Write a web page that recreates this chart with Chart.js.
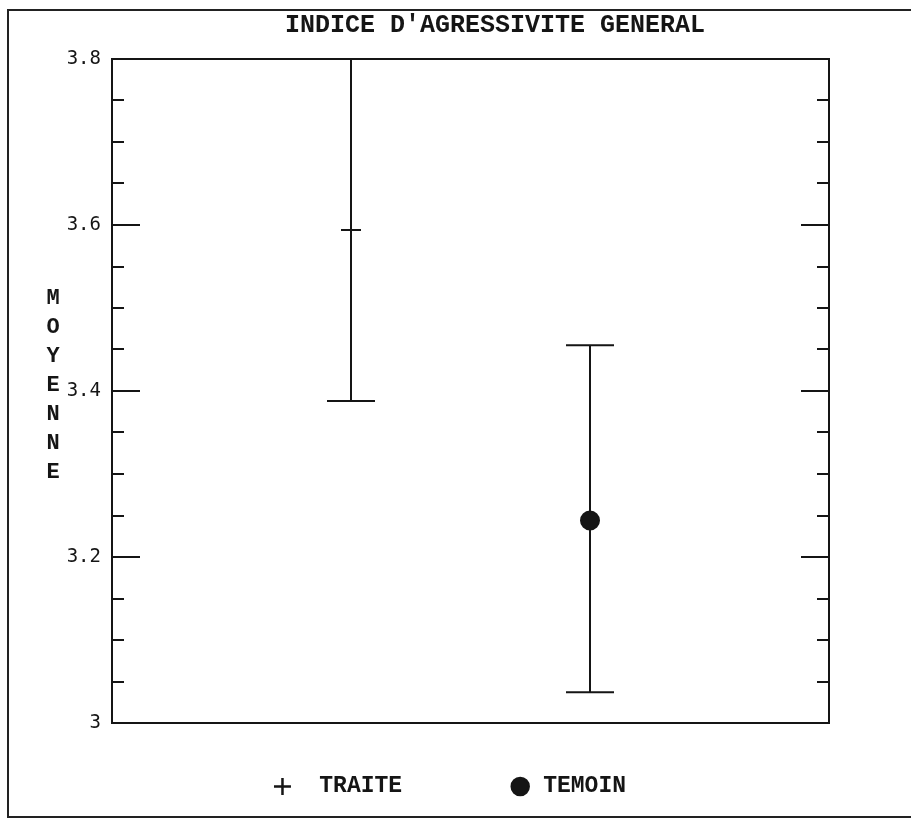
<!DOCTYPE html>
<html>
<head>
<meta charset="utf-8">
<script src="https://cdn.jsdelivr.net/npm/chart.js@4.4.1/dist/chart.umd.min.js"></script>
<style>
  html, body { margin: 0; padding: 0; background: #fff; }
  #wrap { position: relative; width: 911px; height: 821px; overflow: hidden; }
  #frame { position: absolute; left: 7px; top: 9px; width: 920px; height: 805px;
           border-left: 2px solid #222; border-top: 2px solid #222; border-bottom: 2px solid #222; }
  canvas { position: absolute; left: 0; top: 0; }
</style>
</head>
<body>
<div id="wrap">
  <div id="frame"></div>
  <canvas id="c" width="911" height="821"></canvas>
</div>
<script>
// ---- data ----
const categories = ['TRAITE', 'TEMOIN'];
const xPositions = [1, 2];
const means = [3.594, 3.244];
const lowerBounds = [3.388, 3.037];
const upperBounds = [3.800, 3.455];
const yTickLabels = ['3', '3.2', '3.4', '3.6', '3.8'];
const yMin = 3.0;
const yMax = 3.8;
const yMinorStep = 0.05;
const chartTitle = "INDICE D'AGRESSIVITE GENERAL";
const yTitle = 'MOYENNE';

// ---- styles ----
const INK = '#151515';
const MONO = '"Liberation Mono", "DejaVu Sans Mono", monospace';
const pointStyles = ['cross', 'circle'];
const pointRadii = [10, 9];

const datasets = categories.map((name, i) => ({
  label: name,
  data: [{ x: xPositions[i], y: means[i] }],
  pointStyle: pointStyles[i],
  pointRadius: pointRadii[i],
  pointHoverRadius: pointRadii[i],
  borderColor: INK,
  backgroundColor: INK,
  borderWidth: 2,
  showLine: false
}));

function labelFor(v) {
  for (const l of yTickLabels) {
    if (Math.abs(parseFloat(l) - v) < 1e-6) return l;
  }
  return null;
}

const decorPlugin = {
  id: 'decor',
  beforeDatasetsDraw(chart) {
    const ctx = chart.ctx;
    const { left, right, top, bottom } = chart.chartArea;
    const ys = chart.scales.y, xs = chart.scales.x;
    ctx.save();
    ctx.strokeStyle = INK;
    ctx.lineWidth = 2;
    ctx.lineCap = 'butt';
    // frame
    ctx.strokeRect(left, top, right - left, bottom - top);
    // inward ticks
    ys.ticks.forEach(t => {
      const y = Math.round(ys.getPixelForValue(t.value));
      if (Math.abs(t.value - yMin) < 1e-6 || Math.abs(t.value - yMax) < 1e-6) return;
      const major = labelFor(t.value) !== null;
      const len = major ? 28 : 12;
      ctx.beginPath();
      ctx.moveTo(left, y); ctx.lineTo(left + len, y);
      ctx.moveTo(right, y); ctx.lineTo(right - len, y);
      ctx.stroke();
    });
    // error bars
    const capHalf = 24;
    categories.forEach((c, i) => {
      const x = xs.getPixelForValue(xPositions[i]);
      const yl = ys.getPixelForValue(lowerBounds[i]);
      const yu = ys.getPixelForValue(upperBounds[i]);
      ctx.beginPath();
      ctx.moveTo(x, yl); ctx.lineTo(x, yu);
      ctx.moveTo(x - capHalf, yl); ctx.lineTo(x + capHalf, yl);
      ctx.moveTo(x - capHalf, yu); ctx.lineTo(x + capHalf, yu);
      ctx.stroke();
    });
    ctx.restore();
  },
  afterDraw(chart) {
    const ctx = chart.ctx;
    ctx.save();
    ctx.fillStyle = INK;
    ctx.textAlign = 'center';
    ctx.textBaseline = 'middle';
    ctx.font = 'bold 25px ' + MONO;
    ctx.fillText(chartTitle, 495, 26);
    ctx.font = 'bold 22px ' + MONO;
    const letters = yTitle.split('');
    letters.forEach((ch, i) => {
      ctx.fillText(ch, 53, 298 + i * 29);
    });
    ctx.restore();
  }
};

const nb = '\u00a0';
new Chart(document.getElementById('c'), {
  type: 'scatter',
  data: { datasets },
  options: {
    responsive: false,
    animation: false,
    events: [],
    layout: { padding: { left: 0, right: 14, top: 59, bottom: 13 } },
    scales: {
      x: {
        type: 'linear', min: 0, max: 3,
        grid: { display: false, drawTicks: false },
        border: { display: false },
        ticks: { display: false },
        afterFit: s => { s.height = 42; }
      },
      y: {
        type: 'linear', min: yMin, max: yMax,
        grid: { display: false, drawTicks: false },
        border: { display: false },
        ticks: {
          stepSize: yMinorStep,
          autoSkip: false,
          padding: 11,
          color: INK,
          font: { family: '"DejaVu Sans Mono", monospace', size: 19 },
          callback: v => labelFor(v) || ''
        },
        afterFit: s => { s.width = 112; }
      },
      yRight: {
        type: 'linear', position: 'right', min: yMin, max: yMax,
        grid: { display: false, drawTicks: false },
        border: { display: false },
        ticks: { display: false },
        afterFit: s => { s.width = 68; }
      }
    },
    plugins: {
      title: { display: false },
      tooltip: { enabled: false },
      legend: {
        display: true,
        position: 'bottom',
        labels: {
          usePointStyle: true,
          boxWidth: 23,
          boxHeight: 12,
          padding: 10,
          color: INK,
          font: { family: MONO, size: 23, weight: 'bold' },
          generateLabels: chart => chart.data.datasets.map((d, i) => ({
            text: i === 0 ? nb + d.label + nb.repeat(7) : d.label,
            pointStyle: d.pointStyle,
            fillStyle: INK,
            strokeStyle: INK,
            lineWidth: 2.5,
            fontColor: INK,
            datasetIndex: i,
            hidden: false
          }))
        }
      }
    }
  },
  plugins: [decorPlugin]
});
</script>
</body>
</html>
